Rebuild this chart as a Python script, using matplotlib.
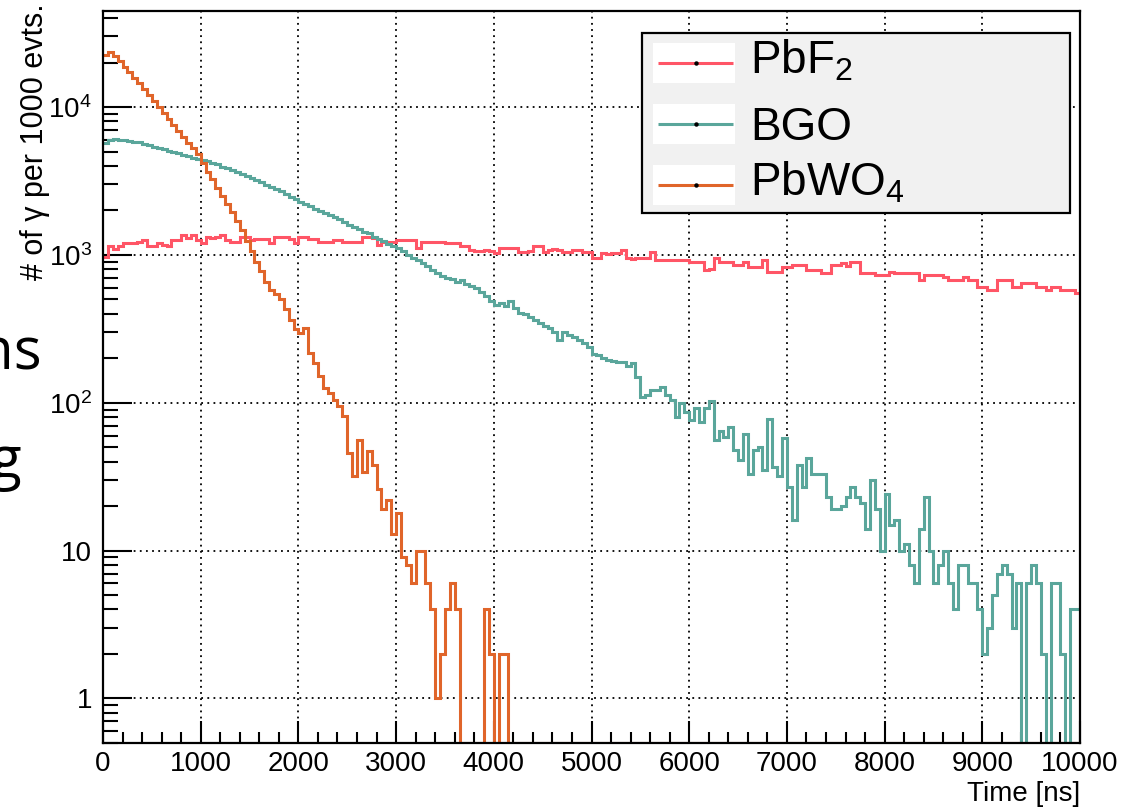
import numpy as np
import matplotlib
matplotlib.use("Agg")
import matplotlib.pyplot as plt
from matplotlib.patches import Rectangle
from matplotlib.ticker import FixedLocator, FixedFormatter, NullFormatter

# ---------------- data (counts per 50 ns bin, 0 - 10000 ns) ----------------
bin_edges = np.linspace(0, 10000, 201)

pbf2 = [
    975, 1140, 1090, 1140, 1200, 1200, 1200, 1230, 1260, 1140, 1140, 1200, 1170, 1140, 1260, 1260, 1360, 1310, 1360, 1260,
    1200, 1330, 1310, 1330, 1360, 1260, 1230, 1230, 1330, 1330, 1260, 1290, 1290, 1290, 1200, 1330, 1330, 1330, 1290, 1200,
    1330, 1330, 1290, 1290, 1230, 1230, 1230, 1260, 1260, 1230, 1230, 1230, 1230, 1330, 1330, 1300, 1160, 1230, 1230, 1230,
    1260, 1260, 1260, 1260, 1120, 1230, 1230, 1230, 1230, 1230, 1200, 1200, 1200, 1140, 1140, 1080, 1060, 1060, 1080, 1060,
    1030, 1110, 1110, 1110, 1110, 1050, 1050, 1060, 1140, 1140, 1050, 1080, 1100, 1080, 1050, 1050, 1080, 1080, 1050, 1050,
    950, 960, 1030, 1020, 1030, 1030, 1080, 950, 940, 950, 950, 960, 1050, 925, 930, 920, 925, 925, 930, 920,
    900, 900, 900, 790, 800, 960, 900, 900, 900, 860, 860, 900, 834, 834, 834, 925, 770, 770, 770, 834,
    834, 850, 850, 850, 790, 790, 790, 750, 750, 860, 860, 880, 840, 900, 900, 752, 752, 752, 735, 735,
    735, 770, 752, 752, 752, 752, 752, 678, 735, 735, 735, 735, 714, 678, 678, 678, 714, 678, 678, 611,
    611, 580, 580, 678, 678, 678, 611, 611, 643, 643, 643, 611, 611, 580, 611, 611, 580, 580, 580, 551,
]

bgo = [
    5680, 5960, 6070, 6020, 5980, 5920, 5830, 5760, 5620, 5550, 5400, 5310, 5190, 5080, 4990, 4880, 4760, 4640, 4540, 4470,
    4380, 4290, 4180, 4090, 3960, 3870, 3740, 3640, 3550, 3420, 3300, 3220, 3090, 2990, 2900, 2780, 2700, 2590, 2480, 2390,
    2290, 2210, 2130, 2050, 1980, 1910, 1850, 1790, 1740, 1660, 1590, 1540, 1490, 1430, 1400, 1330, 1290, 1240, 1180, 1150,
    1110, 1060, 1000, 960, 920, 880, 840, 790, 760, 715, 700, 690, 660, 680, 640, 620, 600, 560, 530, 490,
    460, 470, 450, 485, 440, 405, 400, 380, 365, 345, 330, 320, 300, 265, 300, 285, 280, 265, 255, 240,
    215, 210, 200, 195, 192, 188, 189, 176, 185, 150, 110, 112, 122, 122, 128, 112, 104, 80, 100, 86,
    77, 92, 74, 92, 102, 56, 64, 59, 69, 48, 41, 61, 33, 48, 50, 35, 78, 37, 32, 58,
    27, 16, 38, 27, 42, 33, 33, 33, 23, 19, 19, 20, 23, 27, 23, 21, 14, 30, 19, 10,
    24, 15, 16, 10, 11, 8, 6, 14, 23, 10, 6, 8, 10, 6, 4, 8, 8, 6, 6, 4,
    2, 3, 5, 7, 8, 7, 3, 6, 0, 6, 8, 6, 2, 0, 6, 6, 2, 0, 4, 4,
]

pbwo4 = [
    22650, 23550, 22100, 20400, 18600, 17200, 15800, 14500, 13200, 12000, 11000, 10000, 9100, 8300, 7600, 6900, 6300, 5750, 5250, 4800,
    4200, 3650, 3250, 2850, 2500, 2200, 1950, 1700, 1480, 1250, 1060, 900, 780, 660, 580, 540, 500, 430, 360, 314,
    298, 322, 218, 187, 151, 126, 117, 105, 95, 81, 46, 32, 56, 34, 47, 38, 26, 19, 22, 13,
    18, 9, 8, 6, 10, 10, 6, 4, 1, 2, 4, 6, 4, 0, 0, 0, 0, 0, 4, 2,
    0, 2, 2, 0, 0, 0, 0, 0, 0, 0, 0, 0, 0, 0, 0, 0, 0, 0, 0, 0,
    0, 0, 0, 0, 0, 0, 0, 0, 0, 0, 0, 0, 0, 0, 0, 0, 0, 0, 0, 0,
    0, 0, 0, 0, 0, 0, 0, 0, 0, 0, 0, 0, 0, 0, 0, 0, 0, 0, 0, 0,
    0, 0, 0, 0, 0, 0, 0, 0, 0, 0, 0, 0, 0, 0, 0, 0, 0, 0, 0, 0,
    0, 0, 0, 0, 0, 0, 0, 0, 0, 0, 0, 0, 0, 0, 0, 0, 0, 0, 0, 0,
    0, 0, 0, 0, 0, 0, 0, 0, 0, 0, 0, 0, 0, 0, 0, 0, 0, 0, 0, 0,
]

series_names = ["PbF$_2$", "BGO", "PbWO$_4$"]
series_colors = ["#ff5566", "#5aa69b", "#e0652a"]

x_ticks = [0, 1000, 2000, 3000, 4000, 5000, 6000, 7000, 8000, 9000, 10000]
x_ticklabels = ["0", "1000", "2000", "3000", "4000", "5000", "6000", "7000", "8000", "9000", "10000"]
y_ticks = [1, 10, 100, 1000, 10000]
y_ticklabels = ["1", "10", "$10^{2}$", "$10^{3}$", "$10^{4}$"]

# ---------------- style ----------------
plt.rcParams['font.family'] = ['Liberation Sans', 'DejaVu Sans']
plt.rcParams['mathtext.fontset'] = 'custom'
plt.rcParams['mathtext.rm'] = 'Liberation Sans'
plt.rcParams['mathtext.it'] = 'Liberation Sans:italic'
plt.rcParams['mathtext.default'] = 'regular'

fig = plt.figure(figsize=(11.25, 8.09), dpi=100)
ax = fig.add_axes([103 / 1125, 1 - 743 / 809, 977 / 1125, 732 / 809])

ymin, ymax = 0.5, 44600
ax.set_yscale('log')
ax.set_xlim(0, 10000)
ax.set_ylim(ymin, ymax)

for vals, col in zip([pbf2, bgo, pbwo4], series_colors):
    v = np.clip(np.asarray(vals, dtype=float), ymin, None)
    ax.stairs(v, bin_edges, baseline=None, color=col, lw=2.2, zorder=3)

# ticks
ax.xaxis.set_major_locator(FixedLocator(x_ticks))
ax.xaxis.set_major_formatter(FixedFormatter(x_ticklabels))
ax.xaxis.set_minor_locator(FixedLocator(np.arange(0, 10001, 200)))
ax.yaxis.set_major_locator(FixedLocator(y_ticks))
ax.yaxis.set_major_formatter(FixedFormatter(y_ticklabels))
minor_y = [m * 10.0 ** e for e in range(-1, 5) for m in range(2, 10)]
minor_y = [v for v in minor_y if ymin <= v <= ymax]
ax.yaxis.set_minor_locator(FixedLocator(minor_y))
ax.yaxis.set_minor_formatter(NullFormatter())

ax.tick_params(axis='x', which='major', direction='in', length=16, width=1.5,
               labelsize=20, pad=6, top=False)
ax.tick_params(axis='x', which='minor', direction='in', length=8, width=1.5, top=False)
ax.tick_params(axis='y', which='major', direction='in', length=21, width=1.5,
               labelsize=20, pad=8, right=False)
ax.tick_params(axis='y', which='minor', direction='in', length=10.5, width=1.5, right=False)

for s in ax.spines.values():
    s.set_linewidth(1.6)
    s.set_zorder(4)

ax.grid(True, which='major', color='black', linestyle=(0, (1, 2.4)), lw=1.3, zorder=1)
ax.set_axisbelow(True)

# axis titles (ROOT style, aligned to axis end)
fig.text(0.031, 0.996, "# of \u03b3 per 1000 evts.", rotation=90, ha='center', va='top', fontsize=22)
fig.text(1080 / 1125, 1 - 801 / 809, "Time [ns]", ha='right', va='baseline', fontsize=20)

# legend (ROOT TLegend look)
lx0, lx1, ly0, ly1 = 0.5517, 0.9898, 0.724, 0.970
ax.add_patch(Rectangle((lx0, ly0), lx1 - lx0, ly1 - ly0, transform=ax.transAxes,
                       facecolor='#f1f1f1', edgecolor='black', lw=1.6, zorder=6))
entry_y = [0.9285, 0.845, 0.7623]
entry_base = [0.915, 0.8238, 0.7486]
for name, col, yc, yb in zip(series_names, series_colors, entry_y, entry_base):
    ax.add_patch(Rectangle((0.563, yc - 0.0273), 0.084, 0.0546, transform=ax.transAxes,
                           facecolor='white', edgecolor='none', zorder=7))
    ax.plot([0.568, 0.645], [yc, yc], transform=ax.transAxes, color=col, lw=2.2, zorder=8,
            solid_capstyle='butt')
    ax.plot([0.6065], [yc], transform=ax.transAxes, marker='o', ms=2.2, color='black', zorder=9)
    ax.text(0.662, yb, name, transform=ax.transAxes, fontsize=33, ha='left', va='baseline', zorder=9)

# fragments of slide text visible at left edge
fig.text(42 / 1125, 1 - 370 / 809, "ns", fontsize=42, family=['Open Sans', 'DejaVu Sans'],
         fontweight='normal', color='black', ha='right', va='baseline')
fig.text(21 / 1125, 1 - 478 / 809, "g", fontsize=42, family=['Open Sans', 'DejaVu Sans'],
         fontweight='normal', color='black', ha='right', va='baseline')

fig.savefig("out.png", dpi=100)
